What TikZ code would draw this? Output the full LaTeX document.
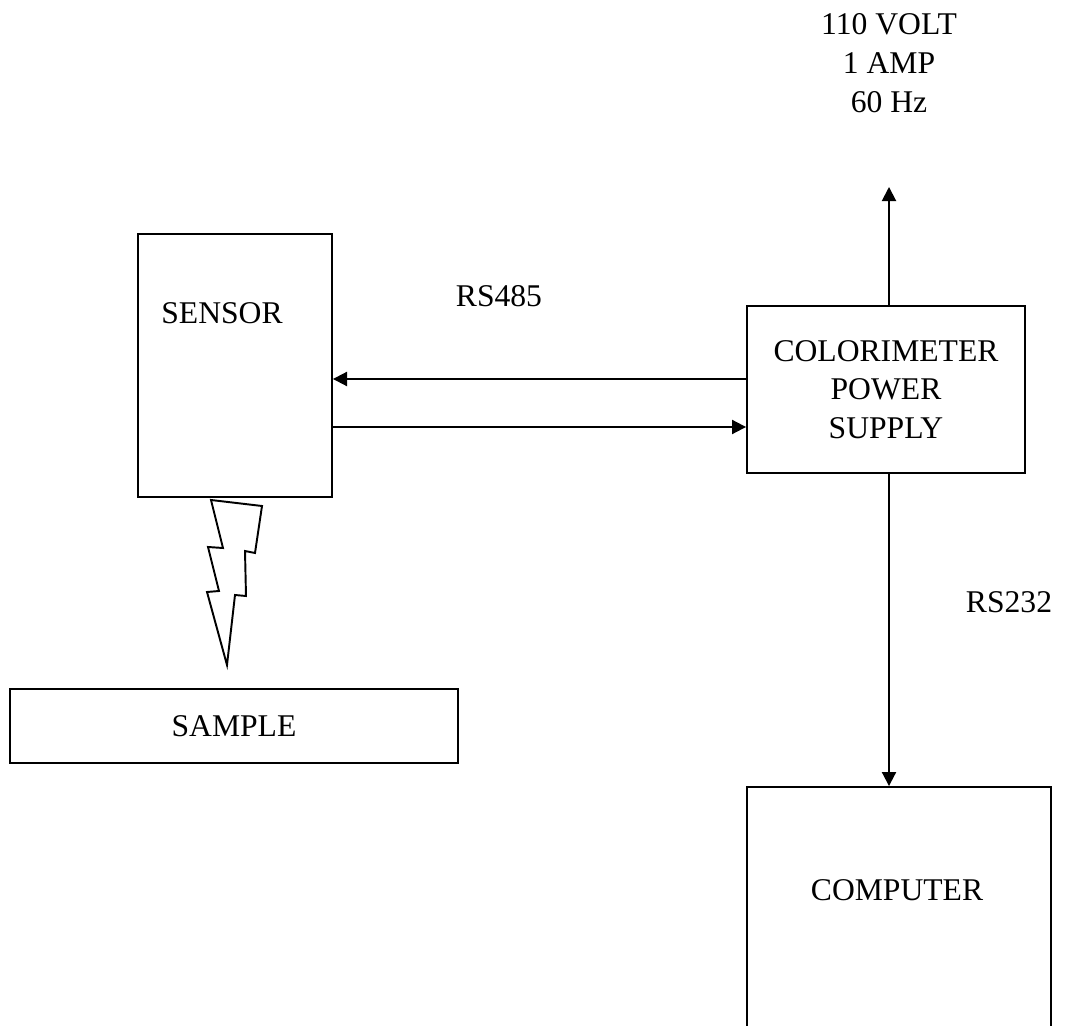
\documentclass[tikz,border=0pt]{standalone}
\usepackage{fontspec}
\setmainfont{Liberation Serif}
\usetikzlibrary{arrows.meta, positioning, calc}
\tikzset{
  box/.style={draw, line width=1.1pt, minimum width=#1, inner sep=0pt, align=center},
  arr/.style={-{Triangle[length=8pt, width=8pt]}, line width=1.1pt},
  lbl/.style={font=\fontsize{18}{22}\selectfont, align=center},
}

\begin{document}
\begin{tikzpicture}[x=0.02cm, y=-0.02cm, every node/.style={lbl}]
    \useasboundingbox (0,0) rectangle (1068,1026);
    \clip (0,0) rectangle (1068,1026);
    \node[box=3.88cm, minimum height=5.26cm] (sensor) at (235,365.5) {};
    \node at (222,313) (sensortxt) {SENSOR};
    \node[box=5.56cm, minimum height=3.34cm] (cp) at (886,389.5) {COLORIMETER\\POWER\\SUPPLY};
    \node[box=8.96cm, minimum height=1.48cm] (sample) at (234,726) {SAMPLE};
    \node[box=6.08cm, minimum height=5.32cm] (comp) at (899,920) {};
    \node at (897,890) (comptxt) {COMPUTER};
    \node at (889,63) (power) {110 VOLT\\1 AMP\\60 Hz};
    \node at (499,296) (rs485) {RS485};
    \node at (1009,602) (rs232) {RS232};
    \coordinate (pw) at (889,187);
    \coordinate (r1) at (0,379);
    \coordinate (r2) at (0,427);
    \draw[arr] (cp.north -| pw) -- (pw);
    \draw[arr] (cp.west |- r1) -- (sensor.east |- r1);
    \draw[arr] (sensor.east |- r2) -- (cp.west |- r2);
    \draw[arr] (cp.south -| pw) -- (comp.north -| pw);
    % lightning bolt
    \draw[line width=1.1pt, line join=miter] (211,500) -- (262,506) -- (255,553) -- (245,551)
      -- (246,596) -- (235,595) -- (227,665) -- (207,592) -- (219,591) -- (208,547)
      -- (223,548) -- cycle;
  \end{tikzpicture}
\end{document}
